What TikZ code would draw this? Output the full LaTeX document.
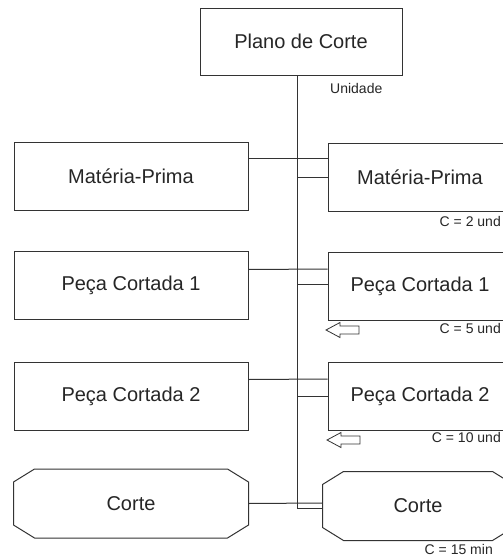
\documentclass[tikz,border=0pt]{standalone}
\usepackage{fontspec}
\setmainfont{Liberation Sans}
\usetikzlibrary{positioning,calc}
\tikzset{
  planbox/.style={
    draw=black!80,
    line width=1pt,
    minimum width=234pt,
    minimum height=68pt,
    inner sep=0pt,
    font=\fontsize{20}{24}\selectfont,
    text=black!85
  },
  itembox/.style={planbox,minimum width=184pt},
  cutbox/.style={planbox,draw=none},
  link/.style={draw=black!80,line width=1pt},
  qtylabel/.style={font=\fontsize{14}{17}\selectfont,text=black!85,inner sep=0pt}
}
% octagonal frame round a cutbox node
\newcommand{\octframe}[1]{%
  \draw[link] ([xshift=21pt]#1.north west) -- ([xshift=-21pt]#1.north east)
    -- ([yshift=-13pt]#1.north east) -- ([yshift=13pt]#1.south east)
    -- ([xshift=-21pt]#1.south east) -- ([xshift=21pt]#1.south west)
    -- ([yshift=13pt]#1.south west) -- ([yshift=-13pt]#1.north west) -- cycle;}
% hollow arrow pointing left, tip at #1
\newcommand{\backarrow}[1]{%
  \draw[link,line width=0.8pt,fill=white] #1 -- ++(14,-7.5) -- ++(0,3.5)
    -- ++(19,0) -- ++(0,8) -- ++(-19,0) -- ++(0,3.5) -- cycle;}

\begin{document}
\begin{tikzpicture}[x=1pt,y=-1pt]
  \fill[white] (0,0) rectangle (503,557);
  \path[use as bounding box,clip] (0,0) rectangle (503,557);

  \node[planbox,minimum width=202pt,minimum height=67pt] (plano) at (301,41.5) {Plano de Corte};

  % left column
  \node[planbox] (mpL) at (131,176.5) {Matéria-Prima};
  \node[planbox,below=40pt of mpL] (pc1L) {Peça Cortada 1};
  \node[planbox,below=42pt of pc1L] (pc2L) {Peça Cortada 2};
  \node[cutbox,below=38pt of pc2L] (ctL) {Corte};
  \octframe{ctL}

  % right column
  \node[itembox] (mpR) at (420,177) {Matéria-Prima};
  \node[itembox,below=40pt of mpR] (pc1R) {Peça Cortada 1};
  \node[itembox,below=41pt of pc1R] (pc2R) {Peça Cortada 2};
  \node[cutbox,minimum width=190pt,below=41pt of pc2R,xshift=-2pt] (ctR) {Corte};
  \octframe{ctR}

  % spine
  \coordinate (spineTop) at ([xshift=-4pt]plano.south);
  \coordinate (spineEnd) at (297,508);
  \draw[link] (spineTop) -- (spineEnd);

  \draw[link] ([yshift=18.5pt]mpL.east) -- ([yshift=19pt]mpR.west);
  \draw[link] (spineTop |- mpR.west) -- (mpR.west);
  \draw[link] ([yshift=16pt]pc1L.east) -- ([yshift=17pt]pc1R.west);
  \draw[link] ([yshift=1.5pt]spineTop |- pc1R.west) -- ([yshift=1.5pt]pc1R.west);
  \draw[link] ([yshift=17pt]pc2L.east) -- ([yshift=17pt]pc2R.west);
  \draw[link] (spineTop |- pc2R.west) -- (pc2R.west);
  \draw[link] (ctL.east) -- ([yshift=3pt]ctR.west);
  \draw[link] (spineEnd) -- (spineEnd -| ctR.west);

  % labels
  \node[qtylabel,anchor=west] (unidade) at (330,88) {Unidade};
  \node[qtylabel,anchor=east] (qmp) at (501,221) {C = 2 und};
  \node[qtylabel,anchor=east] (qpc1) at (501,328) {C = 5 und};
  \node[qtylabel,anchor=east] (qpc2) at (501,437) {C = 10 und};
  \node[qtylabel,anchor=east] (qct) at (493,549) {C = 15 min};

  \backarrow{(326,330)}
  \backarrow{(327,440)}
\end{tikzpicture}
\end{document}
